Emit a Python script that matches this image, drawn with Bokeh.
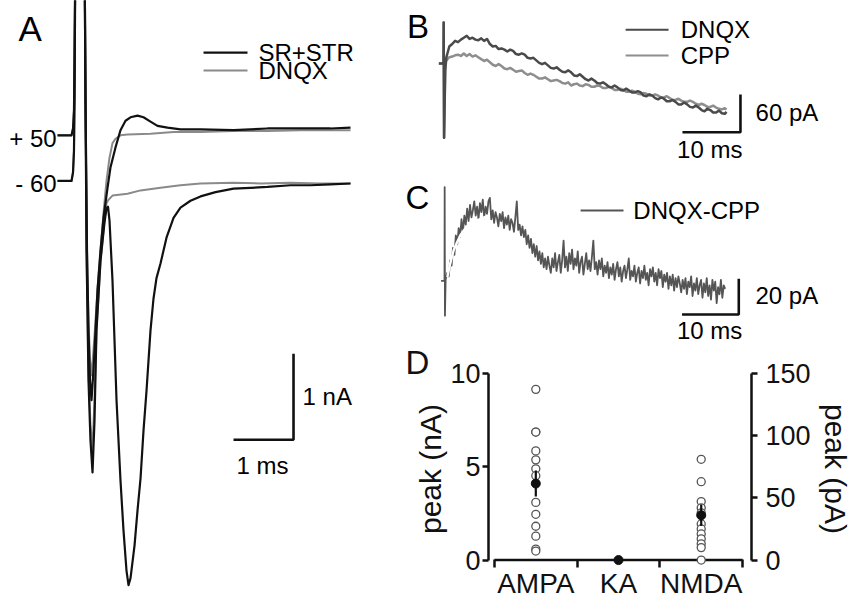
from bokeh.plotting import figure
from bokeh.layouts import row, column
from bokeh.models import Range1d, LinearAxis, FixedTicker
from bokeh.core.properties import value
from bokeh.embed import file_html
from bokeh.resources import INLINE

FONT = "Liberation Sans"

# ---------------- Panel A: traces (time ms, current nA) ----------------
A_sr_m60 = [(-0.017, 0.03), (0.217, 0.03), (0.242, 0.13), (0.258, 0.38), (0.267, 0.97), (0.283, 2.9),
            (0.433, 2.9), (0.45, 0.97), (0.467, -0.78), (0.5, -2.29), (0.533, -2.99), (0.567, -3.36),
            (0.6, -2.76), (0.633, -1.71), (0.7, -0.9), (0.767, -0.45), (0.8, -0.29), (0.825, -0.27),
            (0.85, -0.43), (0.9, -1.13), (0.967, -2.52), (1.033, -3.45), (1.083, -4.03), (1.133, -4.5),
            (1.167, -4.67), (1.2, -4.59), (1.267, -4.21), (1.317, -3.8), (1.367, -3.43), (1.417, -2.87),
            (1.467, -2.41), (1.533, -1.71), (1.583, -1.34), (1.633, -1.1), (1.7, -0.93), (1.8, -0.63),
            (1.917, -0.4), (2.033, -0.28), (2.2, -0.2), (2.367, -0.15), (2.617, -0.1), (2.917, -0.06),
            (3.2, -0.05), (3.483, -0.04), (3.867, -0.02), (4.2, -0.02), (4.533, -0.01), (4.867, 0.0)]
A_dnqx_m60 = [(-0.017, 0.03), (0.217, 0.03), (0.242, 0.13), (0.258, 0.38), (0.267, 0.97), (0.283, 2.9),
              (0.433, 2.9), (0.45, 0.97), (0.467, -0.78), (0.5, -2.17), (0.533, -2.81), (0.567, -3.08),
              (0.6, -2.52), (0.633, -1.71), (0.7, -0.9), (0.767, -0.43), (0.8, -0.23), (0.833, -0.19),
              (0.9, -0.14), (1.15, -0.12), (1.367, -0.08), (1.7, -0.05), (2.033, -0.02), (2.367, 0.0),
              (2.917, 0.01), (3.367, 0.0), (3.867, 0.01), (4.367, 0.0), (4.867, 0.0)]
A_sr_p50 = [(-0.017, 0.56), (0.217, 0.56), (0.242, 0.64), (0.258, 0.85), (0.267, 1.43), (0.283, 2.9),
            (0.433, 2.9), (0.45, 0.97), (0.475, -0.78), (0.5, -1.71), (0.525, -2.29), (0.55, -2.52),
            (0.583, -2.17), (0.617, -1.71), (0.65, -1.24), (0.7, -0.78), (0.75, -0.4), (0.817, -0.05),
            (0.867, 0.19), (0.95, 0.42), (1.033, 0.62), (1.117, 0.73), (1.2, 0.77), (1.317, 0.79),
            (1.417, 0.77), (1.533, 0.72), (1.65, 0.67), (1.817, 0.65), (2.033, 0.63), (2.367, 0.63),
            (2.917, 0.62), (3.483, 0.64), (4.033, 0.64), (4.533, 0.64), (4.867, 0.65)]
A_dnqx_p50 = [(-0.017, 0.56), (0.217, 0.56), (0.242, 0.64), (0.258, 0.85), (0.267, 1.43), (0.283, 2.9),
              (0.433, 2.9), (0.45, 0.97), (0.475, -0.78), (0.5, -1.59), (0.525, -2.06), (0.55, -2.23),
              (0.583, -1.94), (0.617, -1.59), (0.65, -1.24), (0.7, -0.78), (0.75, -0.34), (0.8, 0.03),
              (0.85, 0.3), (0.9, 0.47), (0.95, 0.52), (1.033, 0.56), (1.15, 0.57), (1.533, 0.58),
              (1.917, 0.6), (2.367, 0.6), (2.917, 0.61), (3.483, 0.61), (4.033, 0.62), (4.533, 0.62),
              (4.867, 0.62)]
A_legend = ["SR+STR", "DNQX"]
A_levels = ["+ 50", "- 60"]
A_level_values = [0.52, 0.0]   # nA baseline of each holding level
A_scale = (1, 1)               # 1 ms, 1 nA

# ---------------- Panel B: traces (time ms, current pA) ----------------
B_dnqx = [(-0.8, 0), (-0.2, 0), (0, 0), (0.03, 65), (0.1, -118), (0.3, -11), (0.5, 10), (1, 27), (1.5, 31),
          (2, 36), (2.5, 34), (3, 38), (3.5, 41), (4, 44), (4.5, 39), (5, 41), (5.5, 38), (6, 37), (6.5, 40),
          (7, 36), (7.5, 39), (8, 31), (8.5, 27), (9, 28), (9.5, 23), (10, 24), (10.5, 22), (11, 19),
          (11.5, 22), (12, 20), (12.5, 15), (13, 14), (13.5, 16), (14, 14), (14.5, 9), (15, 8), (15.5, 9),
          (16, 5), (16.5, 1), (17, -1), (17.5, 1), (18, -3), (18.5, -7), (19, -8), (19.5, -6), (20, -10),
          (20.5, -13), (21, -14), (21.5, -11), (22, -14), (22.5, -19), (23, -20), (23.5, -17), (24, -21),
          (24.5, -25), (25, -27), (25.5, -24), (26, -27), (26.5, -31), (27, -32), (27.5, -30), (28, -33),
          (28.5, -37), (29, -38), (29.5, -35), (30, -38), (30.5, -42), (31, -43), (31.5, -40), (32, -43),
          (32.5, -46), (33, -46), (33.5, -44), (34, -46), (34.5, -51), (35, -52), (35.5, -49), (36, -51),
          (36.5, -55), (37, -57), (37.5, -54), (38, -56), (38.5, -60), (39, -60), (39.5, -58), (40, -61),
          (40.5, -65), (41, -65), (41.5, -62), (42, -65), (42.5, -69), (43, -70), (43.5, -67), (44, -70),
          (44.5, -74), (45, -76), (45.5, -72), (46, -74), (46.5, -78), (47, -78), (47.5, -75), (48, -79),
          (48.5, -80), (48.8, -77)]
B_cpp = [(-0.8, 0), (-0.2, 0), (0, 0), (0.03, 65), (0.1, -118), (0.3, 2), (0.5, 5), (1, 10), (1.5, 11),
         (2, 13), (2.5, 14), (3, 12), (3.5, 16), (4, 12), (4.5, 15), (5, 11), (5.5, 13), (6, 10), (6.5, 7),
         (7, 4), (7.5, 6), (8, 2), (8.5, -2), (9, -4), (9.5, -1), (10, -4), (10.5, -8), (11, -9), (11.5, -7),
         (12, -10), (12.5, -13), (13, -12), (13.5, -11), (14, -15), (14.5, -18), (15, -16), (15.5, -18),
         (16, -21), (16.5, -24), (17, -24), (17.5, -22), (18, -25), (18.5, -28), (19, -27), (19.5, -26),
         (20, -28), (20.5, -31), (21, -32), (21.5, -30), (22, -35), (22.5, -33), (23, -32), (23.5, -35),
         (24, -36), (24.5, -33), (25, -34), (25.5, -37), (26, -37), (26.5, -35), (27, -36), (27.5, -39),
         (28, -39), (28.5, -37), (29, -39), (29.5, -42), (30, -42), (30.5, -40), (31, -42), (31.5, -45),
         (32, -45), (32.5, -43), (33, -45), (33.5, -48), (34, -49), (34.5, -47), (35, -48), (35.5, -51),
         (36, -51), (36.5, -49), (37, -51), (37.5, -54), (38, -54), (38.5, -52), (39, -55), (39.5, -58),
         (40, -58), (40.5, -56), (41, -59), (41.5, -61), (42, -61), (42.5, -59), (43, -61), (43.5, -64),
         (44, -66), (44.5, -64), (45, -66), (45.5, -69), (46, -69), (46.5, -67), (47, -70), (47.5, -72),
         (48, -73), (48.5, -71), (48.8, -73)]
B_legend = ["DNQX", "CPP"]
B_scale = (10, 60)   # 10 ms, 60 pA

# ---------------- Panel C: trace (time ms, current pA) ----------------
C_diff = [(-0.6, 1.5), (-0.2, 1.5), (0, 1.5), (0.03, 54), (0.08, -18), (0.2, 2),
          (0.25, 3), (0.5, 6), (0.75, 4), (1.0, 13), (1.25, 10), (1.5, 20), (1.75, 16), (2.0, 27), (2.25, 22),
          (2.5, 31), (2.75, 26), (3.0, 36), (3.25, 29), (3.5, 38), (3.75, 33), (4.0, 42), (4.25, 35), (4.5, 44),
          (4.75, 37), (5.0, 41), (5.25, 46), (5.5, 38), (5.75, 43), (6.0, 36), (6.25, 45), (6.5, 40),
          (6.75, 47), (7.0, 37), (7.25, 43), (7.5, 39), (7.75, 46), (8.0, 48), (8.25, 36), (8.5, 41),
          (8.75, 34), (9.0, 40), (9.25, 37), (9.5, 32), (9.75, 39), (10.0, 35), (10.25, 40), (10.5, 31),
          (10.75, 37), (11.0, 33), (11.25, 38), (11.5, 30), (11.75, 36), (12.0, 34), (12.25, 29), (12.5, 37),
          (12.75, 46), (13.0, 30), (13.25, 33), (13.5, 27), (13.75, 32), (14.0, 26), (14.25, 30), (14.5, 22),
          (14.75, 27), (15.0, 20), (15.25, 25), (15.5, 17), (15.75, 22), (16.0, 15), (16.25, 21), (16.5, 13),
          (16.75, 18), (17.0, 11), (17.25, 17), (17.5, 9), (17.75, 14), (18.0, 8), (18.25, 15), (18.5, 10),
          (18.75, 6), (19.0, 14), (19.25, 9), (19.5, 17), (19.75, 7), (20.0, 12), (20.25, 16), (20.5, 6),
          (20.75, 13), (21.0, 24), (21.25, 9), (21.5, 15), (21.75, 7), (22.0, 17), (22.25, 11), (22.5, 19),
          (22.75, 8), (23.0, 14), (23.25, 10), (23.5, 18), (23.75, 6), (24.0, 12), (24.25, 15), (24.5, 5),
          (24.75, 11), (25.0, 17), (25.25, 8), (25.5, 13), (25.75, 7), (26.0, 15), (26.25, 24), (26.5, 8),
          (26.75, 12), (27.0, 5), (27.25, 13), (27.5, 8), (27.75, 14), (28.0, 4), (28.25, 10), (28.5, 6),
          (28.75, 12), (29.0, 3), (29.25, 9), (29.5, 5), (29.75, 11), (30.0, 2), (30.25, 8), (30.5, 12),
          (30.75, 4), (31.0, 9), (31.25, 1), (31.5, 7), (31.75, 10), (32.0, 3), (32.25, 8), (32.5, 14),
          (32.75, 2), (33.0, 7), (33.25, 4), (33.5, 10), (33.75, 1), (34.0, 6), (34.25, 9), (34.5, 0),
          (34.75, 7), (35.0, 3), (35.25, 10), (35.5, 2), (35.75, 6), (36.0, -1), (36.25, 8), (36.5, 4),
          (36.75, 9), (37.0, 1), (37.25, 6), (37.5, -1), (37.75, 8), (38.0, 3), (38.25, 7), (38.5, -2),
          (38.75, 5), (39.0, 1), (39.25, 6), (39.5, -3), (39.75, 4), (40.0, -1), (40.25, 5), (40.5, -4),
          (40.75, 3), (41.0, -2), (41.25, 4), (41.5, 0), (41.75, -5), (42.0, 2), (42.25, -3), (42.5, 3),
          (42.75, -6), (43.0, 1), (43.25, -2), (43.5, 4), (43.75, -7), (44.0, 0), (44.25, -4), (44.5, 3),
          (44.75, -6), (45.0, -1), (45.25, 2), (45.5, -8), (45.75, 0), (46.0, -5), (46.25, 3), (46.5, -7),
          (46.75, -1), (47.0, -9), (47.25, 2), (47.5, -4), (47.75, 1), (48.0, -11), (48.25, -2), (48.5, -6),
          (48.75, 2), (49.0, -8), (49.25, -1), (49.5, -3)]
C_fit = [(0.5, 3.5), (1.0, 11), (1.6, 18.5), (2.2, 23), (2.8, 27), (3.6, 30.5), (4.6, 33.4), (5.5, 35),
         (6.4, 36.2), (7.2, 37.3), (7.8, 38)]
C_legend = ["DNQX-CPP"]
C_scale = (10, 20)   # 10 ms, 20 pA

# ---------------- Panel D: peak amplitudes ----------------
D_categories = ["AMPA", "KA", "NMDA"]
D_ampa_nA = [9.15, 6.86, 6.86, 5.85, 5.37, 4.89, 4.52, 3.09, 2.45, 1.81, 1.28, 0.59, 0.48]
D_ka_nA = [0.0]
D_nmda_pA = [81, 63, 47, 42, 38, 29, 25, 21, 17, 13, 10, 0]
D_means = [4.1, 0.0, 36.0]
D_sems = [0.7, 0.0, 8.6]
D_left_ticks = [0, 5, 10]
D_right_ticks = [0, 50, 100, 150]

BLACK = "#111111"
GRAY_A = "#8a8a8a"
DARK_B = "#4a4a4a"
LIGHT_B = "#8e8e8e"
C_COL = "#555555"


def blank(w, h, xr, yr):
    p = figure(width=w, height=h, x_range=Range1d(*xr), y_range=Range1d(*yr),
               output_backend="svg", toolbar_location=None, tools="",
               min_border=0, x_axis_type=None, y_axis_type=None)
    p.frame_align = False
    p.outline_line_color = None
    p.background_fill_color = "white"
    p.border_fill_color = "white"
    return p


def xs(tr):
    return [a for a, b in tr]


def ys(tr):
    return [b for a, b in tr]


def txt(p, x, y, s, size="24px", align="left", color="black"):
    p.text(x=[x], y=[y], text=[s], text_font=value(FONT), text_font_size=size,
           text_align=align, text_baseline="middle", text_color=color)


# ---------------- Panel A ----------------
pa = blank(400, 601, (-0.9667, 5.7), (-4.860, 2.128))
pa.line(xs(A_dnqx_m60), ys(A_dnqx_m60), line_color=GRAY_A, line_width=2, line_join="round")
pa.line(xs(A_dnqx_p50), ys(A_dnqx_p50), line_color=GRAY_A, line_width=2, line_join="round")
pa.line(xs(A_sr_m60), ys(A_sr_m60), line_color=BLACK, line_width=2.2, line_join="round")
pa.line(xs(A_sr_p50), ys(A_sr_p50), line_color=BLACK, line_width=2.2, line_join="round")
for lab, lv in zip(A_levels, A_level_values):
    txt(pa, -0.03, lv, lab, align="right")
pa.line([2.417, 3.15], [1.523, 1.523], line_color=BLACK, line_width=2.2)
pa.line([2.417, 3.15], [1.314, 1.314], line_color=GRAY_A, line_width=2)
txt(pa, 3.333, 1.523, A_legend[0])
txt(pa, 3.333, 1.314, A_legend[1])
sx, sy = 3.917, -2.98
pa.line([sx - A_scale[0], sx, sx], [sy, sy, sy + A_scale[1]], line_color=BLACK, line_width=2.6)
txt(pa, sx + 0.15, sy + 0.5, "1 nA")
txt(pa, sx - 0.517, sy - 0.3, "1 ms", align="center")
txt(pa, -0.667, 1.80, "A", size="35px")

# ---------------- Panel B ----------------
pb = blank(454, 170, (-7.414, 70.862), (-170.13, 100.17))
pb.line(xs(B_cpp), ys(B_cpp), line_color=LIGHT_B, line_width=2.5, line_join="round")
pb.line(xs(B_dnqx), ys(B_dnqx), line_color=DARK_B, line_width=2.5, line_join="round")
pb.line([31.4, 38.8], [53.6, 53.6], line_color=DARK_B, line_width=2)
pb.line([31.4, 38.8], [12.7, 12.7], line_color=LIGHT_B, line_width=2)
txt(pb, 40.9, 53.6, B_legend[0])
txt(pb, 40.9, 12.7, B_legend[1])
bx, by = 51.2, -109.3
pb.line([bx - B_scale[0], bx, bx], [by, by, by + B_scale[1]], line_color=BLACK, line_width=2.6)
txt(pb, 53.8, -77.4, "60 pA")
txt(pb, 45.9, -137, "10 ms", align="center")
txt(pb, -6.3, 58.8, "B", size="33px")

# ---------------- Panel C ----------------
pc = blank(454, 174, (-7.760, 72.310), (-34.17, 63.305))
pc.line(xs(C_diff), ys(C_diff), line_color=C_COL, line_width=1.8, line_join="round")
pc.line(xs(C_fit), ys(C_fit), line_color="white", line_width=2.4, line_join="round")
pc.line([24.0, 31.57], [40.9, 40.9], line_color=C_COL, line_width=2)
txt(pc, 33.3, 40.9, C_legend[0])
cx, cy = 51.9, -17.37
pc.line([cx - C_scale[0], cx, cx], [cy, cy, cy + C_scale[1]], line_color=BLACK, line_width=2.6)
txt(pc, 54.85, -6.72, "20 pA")
txt(pc, 46.77, -26.1, "10 ms", align="center")
txt(pc, -6.9, 47.9, "C", size="33px")

# ---------------- Panel D ----------------
pd_ = figure(width=454, height=257, x_range=Range1d(0.428, 3.608), y_range=Range1d(-0.40, 10.16),
             output_backend="svg", toolbar_location=None, tools="",
             min_border_left=88, min_border_right=102, min_border_top=26, min_border_bottom=30)
pd_.frame_align = False
pd_.outline_line_color = None
pd_.grid.visible = False
pd_.extra_y_ranges = {"pA": Range1d(-6.0, 152.4)}

# panel letter as the figure title, pulled left of the frame
pd_.title.text = "D"
pd_.title.text_font = FONT
pd_.title.text_font_size = "33px"
pd_.title.text_font_style = "normal"
pd_.title.text_color = BLACK
pd_.title.align = "left"
pd_.title.offset = -83
pd_.title.vertical_align = "bottom"
pd_.title.standoff = -20

pos = {c: i + 1 for i, c in enumerate(D_categories)}
bounds = [i + 0.5 for i in range(len(D_categories) + 1)]

xa = pd_.xaxis[0]
xa.ticker = FixedTicker(ticks=list(pos.values()), minor_ticks=bounds)
xa.major_label_overrides = {v: k for k, v in pos.items()}
xa.axis_line_color = None
xa.major_tick_in = 0
xa.major_tick_out = 0
xa.minor_tick_in = 8
xa.minor_tick_out = 0
xa.minor_tick_line_width = 2.5
xa.minor_tick_line_color = BLACK
xa.major_label_text_font = FONT
xa.major_label_text_font_size = "28px"
xa.major_label_text_color = BLACK
xa.major_label_standoff = 0

ya = pd_.yaxis[0]
ya.ticker = FixedTicker(ticks=D_left_ticks)
ya.bounds = (D_left_ticks[0], D_left_ticks[-1])

ra = LinearAxis(y_range_name="pA", ticker=FixedTicker(ticks=D_right_ticks),
                bounds=(D_right_ticks[0], D_right_ticks[-1]))
pd_.add_layout(ra, "right")
for ax, lab, so, lso in ((ya, "peak (nA)", 2, 0), (ra, "peak (pA)", 8, 5)):
    ax.axis_line_width = 2.5
    ax.axis_line_color = BLACK
    ax.major_tick_line_width = 2.5
    ax.major_tick_line_color = BLACK
    ax.major_tick_in = 0
    ax.major_tick_out = 6
    ax.minor_tick_in = 0
    ax.minor_tick_out = 0
    ax.major_label_text_font = FONT
    ax.major_label_text_font_size = "27px"
    ax.major_label_text_color = BLACK
    ax.major_label_standoff = so
    ax.axis_label = lab
    ax.axis_label_text_font = FONT
    ax.axis_label_text_font_size = "30px"
    ax.axis_label_text_font_style = "normal"
    ax.axis_label_text_color = BLACK
    ax.axis_label_standoff = lso

pd_.line([bounds[0], bounds[-1]], [0, 0], line_color=BLACK, line_width=2.5)
ring = dict(size=8, fill_color="white", line_color="#555555", line_width=1.3)
pd_.scatter([pos["AMPA"]] * len(D_ampa_nA), D_ampa_nA, **ring)
pd_.scatter([pos["NMDA"]] * len(D_nmda_pA), D_nmda_pA, y_range_name="pA", **ring)
pd_.segment([pos["AMPA"]], [D_means[0] - D_sems[0]], [pos["AMPA"]], [D_means[0] + D_sems[0]],
            line_color=BLACK, line_width=2.2)
pd_.segment([pos["NMDA"]], [D_means[2] - D_sems[2]], [pos["NMDA"]], [D_means[2] + D_sems[2]],
            line_color=BLACK, line_width=2.2, y_range_name="pA")
pd_.scatter([pos["AMPA"], pos["KA"]], [D_means[0], D_means[1]], size=9, fill_color=BLACK, line_color=BLACK)
pd_.scatter([pos["NMDA"]], [D_means[2]], size=9, fill_color=BLACK, line_color=BLACK, y_range_name="pA")

layout = row(pa, column(pb, pc, pd_))
open("out.html", "w").write(file_html(layout, INLINE))
